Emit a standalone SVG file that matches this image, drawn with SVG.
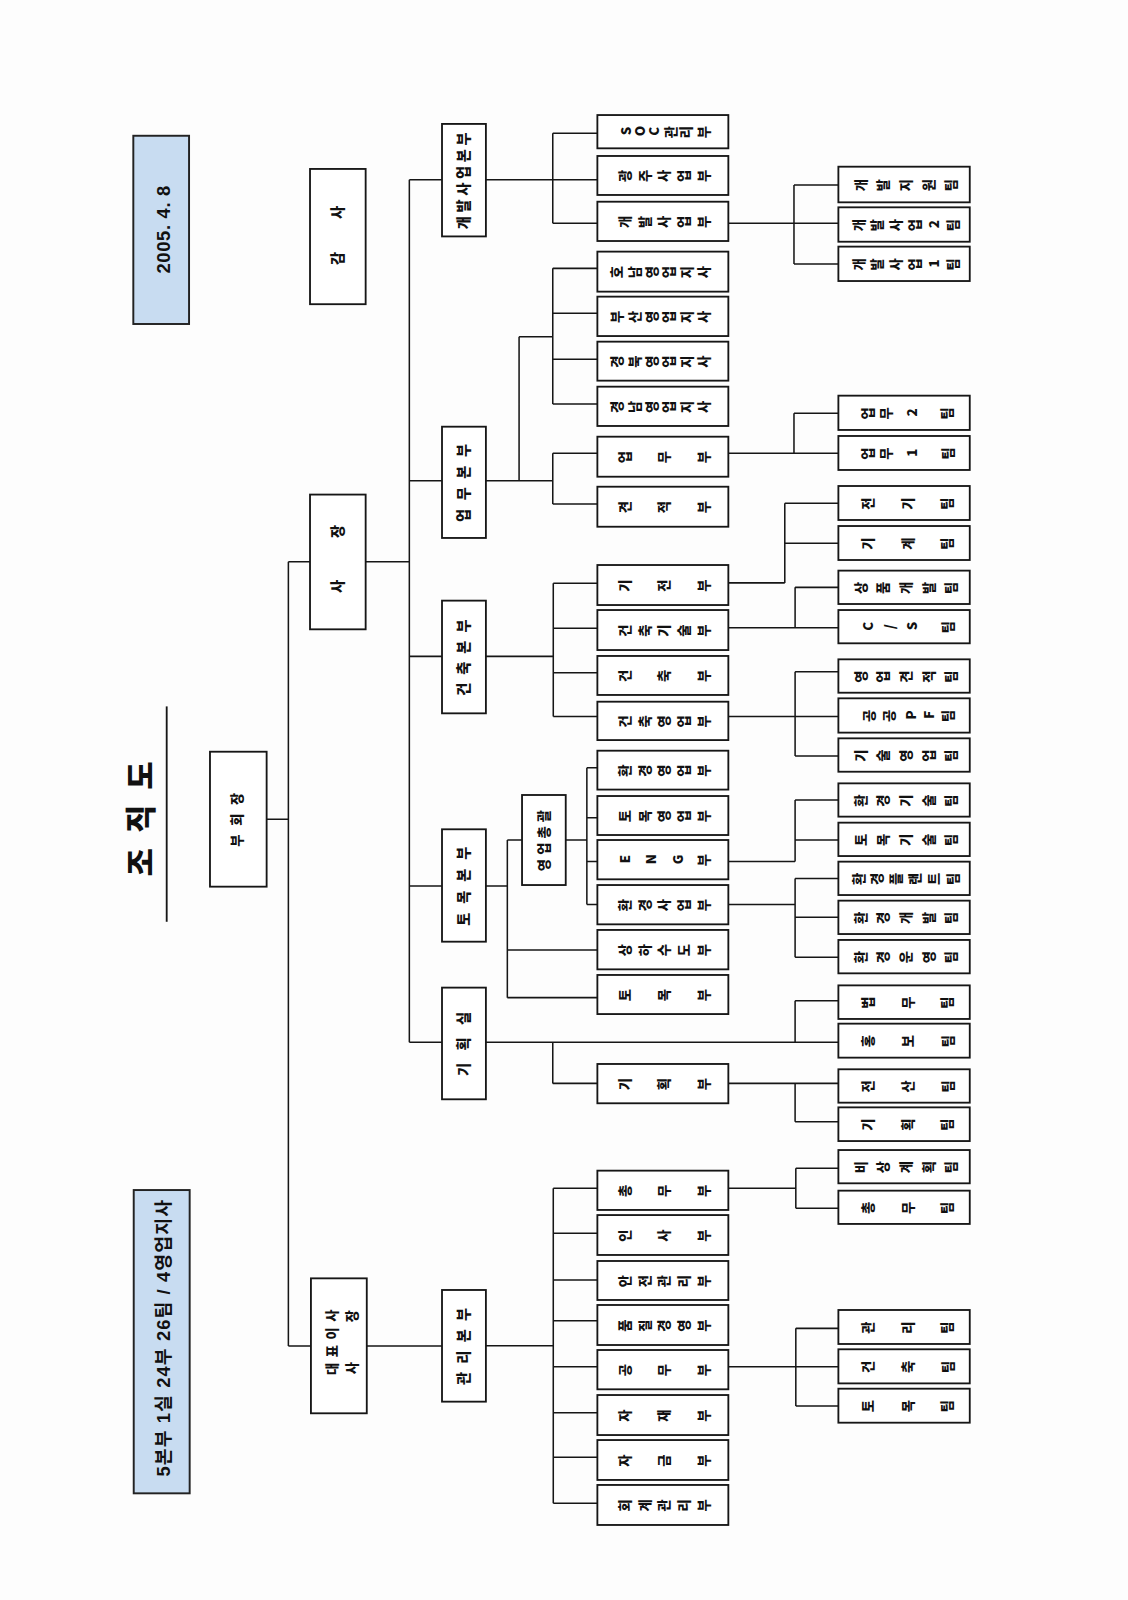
<svg xmlns="http://www.w3.org/2000/svg" width="1128" height="1600" viewBox="0 0 1128 1600">
<style>
.b{fill:#fff;stroke:#161616;stroke-width:1.8}
.bl{fill:#c8dcf1;stroke:#222;stroke-width:1.9}
.c{fill:none;stroke:#161616;stroke-width:1.5}
.t{font-family:"Noto Sans CJK KR","Noto Sans",sans-serif;font-weight:900;fill:#111;font-size:13px}
.t14{font-size:14px}
.l{font-family:"Liberation Sans","Noto Sans CJK KR",sans-serif;font-weight:700;fill:#111;font-size:18px}
</style>
<rect width="1128" height="1600" fill="#fdfdfd"/>
<g transform="scale(1.0208)">
<g id="connectors" class="c">
<path d="M261.2,802.6H282.5M282.5,550.4V1318.6M282.5,550.4H303.7M282.5,1318.6H304.6M358.2,550.4H401M401,176V1021M401,176H433M476,176H585.2M401,470.9H433M401,643H433M401,868H433M401,1021H433M359.3,1318.5H433"/>
<path d="M541.5,130.6V218.8M541.5,130.6H585.2M541.5,218.8H585.2M713.5,218.8H821.3M777.8,181.2V258.6M777.8,181.2H821.3M777.8,258.6H821.3"/>
<path d="M476,470.9H541.5M508.5,329.8V470.9M508.5,329.8H541.5M541.5,262.9V395.8M541.5,262.9H585.2M541.5,306.9H585.2M541.5,352H585.2M541.5,395.8H585.2M541.5,444V493.7M541.5,444H585.2M541.5,493.7H585.2M713.5,444H821.3M777.8,404.9V444M777.8,404.9H821.3"/>
<path d="M476,643H542M542,571.4V702M542,571.4H585.2M542,615.5H585.2M542,659H585.2M542,702H585.2M713.5,571H768.8M768.8,493V571M768.8,493H821.3M768.8,532.2H821.3M713.5,615H821.3M778.9,575.4V615M778.9,575.4H821.3M713.5,702H821.3M778.9,658V740.6M778.9,658H821.3M778.9,740.6H821.3"/>
<path d="M476,868H497M497,822.9V977.3M497,822.9H511.4M497,930.6H585.2M497,977.3H585.2M554.2,822.9H574.9M574.9,752V886M574.9,752H585.2M574.9,801H585.2M574.9,844H585.2M574.9,886H585.2M713.5,844H778.9M778.9,783.7V844M778.9,783.7H821.3M778.9,822.9H821.3M713.5,886H778.9M778.9,860.5V937.8M778.9,860.5H821.3M778.9,898.6H821.3M778.9,937.8H821.3"/>
<path d="M476,1021H821.3M778.9,980.3V1021M778.9,980.3H821.3M541.5,1021V1061.3M541.5,1061.3H585.2M713.5,1061.3H821.3M778.9,1061.3V1098.8M778.9,1098.8H821.3"/>
<path d="M476,1318.4H542M542,1164.1V1472.7M542,1164.1H585.2M542,1208.2H585.2M542,1253.9H585.2M542,1293.8H585.2M542,1338.8H585.2M542,1383.9H585.2M542,1427.6H585.2M542,1472.7H585.2M713.5,1164.1H779.6M779.6,1144.5V1183.7M779.6,1144.5H821.3M779.6,1183.7H821.3M713.5,1338.8H821.3M779.6,1301.3V1377.4M779.6,1301.3H821.3M779.6,1377.4H821.3"/>
</g>
<g id="title">
<text class="t" style="font-size:30px" transform="translate(138,800.9) rotate(-90)" x="-57.6 -36 -15 7 27.6" y="11">조 직 도</text>
<line x1="163.3" y1="692" x2="163.3" y2="903" stroke="#161616" stroke-width="1.8"/>
</g>
<g id="date"><rect class="bl" x="130.6" y="133" width="54.6" height="184.4"/>
<text class="l" transform="translate(160,225) rotate(-90)" x="-43" y="6.5" textLength="86" lengthAdjust="spacing">2005. 4. 8</text></g>
<g id="summary"><rect class="bl" x="131" y="1165.8" width="54.8" height="297.1"/>
<text class="l" transform="translate(160,1311) rotate(-90)" x="-135.5" y="6.6" textLength="271" lengthAdjust="spacing">5본부 1실 24부 26팀 / 4영업지사</text></g>
<g id="n-vicechair"><rect class="b" x="205.7" y="736.4" width="55.5" height="132.2"/>
<text class="t" transform="translate(232.5,802.5) rotate(-90)" x="-27 -6.5 14" y="4.8">부회장</text></g>
<g id="n-president"><rect class="b" x="303.7" y="484.5" width="54.5" height="132"/>
<text class="t t14" transform="translate(331,547) rotate(-90)" x="-34 20" y="5.2">사장</text></g>
<g id="n-auditor"><rect class="b" x="303.7" y="165.5" width="54.5" height="132.5"/>
<text class="t t14" transform="translate(331,230) rotate(-90)" x="-29.5 15.5" y="5.2">감사</text></g>
<g id="n-ceo"><rect class="b" x="304.6" y="1252.3" width="54.7" height="132.2"/>
<text class="t" transform="translate(332,1314.3) rotate(-90)"><tspan x="-32.6 -15.2 2.2 19.6" y="-2.3">대표이사</tspan><tspan x="-32 19" y="17.3">사장</tspan></text></g>
<g id="n-devhq"><rect class="b" x="433" y="121.4" width="43" height="110.2"/>
<text class="t t14" transform="translate(454.5,176.5) rotate(-90)" x="-48 -31.6 -15.2 1.2 17.6 34" y="5.2">개발사업본부</text></g>
<g id="n-bizhq"><rect class="b" x="433" y="418" width="43" height="109"/>
<text class="t t14" transform="translate(454.5,472.5) rotate(-90)" x="-38.85 -17.6 3.6 24.85" y="5.2">업무본부</text></g>
<g id="n-archhq"><rect class="b" x="433" y="588.4" width="43" height="110.4"/>
<text class="t t14" transform="translate(454.5,643.6) rotate(-90)" x="-38 -17.3 3.3 24" y="5.2">건축본부</text></g>
<g id="n-civilhq"><rect class="b" x="433" y="812.4" width="43" height="110.1"/>
<text class="t t14" transform="translate(454.5,867.5) rotate(-90)" x="-39.35 -17.8 3.8 25.35" y="5.2">토목본부</text></g>
<g id="n-planoffice"><rect class="b" x="433" y="967.5" width="43" height="109.4"/>
<text class="t t14" transform="translate(454.5,1022.2) rotate(-90)" x="-32 -7 18" y="5.2">기획실</text></g>
<g id="n-adminhq"><rect class="b" x="433" y="1263.7" width="43" height="109.4"/>
<text class="t t14" transform="translate(454.5,1318.4) rotate(-90)" x="-38.35 -17.45 3.45 24.35" y="5.2">관리본부</text></g>
<g id="n-salesgen"><rect class="b" x="511.4" y="778.8" width="42.8" height="88.2"/>
<text class="t" transform="translate(532.8,822.9) rotate(-90)" x="-30.5 -14.5 1.5 17.5" y="4.8">영업총괄</text></g>
<g id="level3" class="t">
<g id="d-soc"><rect class="b" x="585.2" y="112.7" width="128.3" height="32.6"/><text rotate="-90" x="617.8 631.8 645.8 661.8 676.8 694.5" y="132.6 133.4 132.9 135.5 135.5 135.5">SOC관리부</text></g>
<g id="d-gwangju"><rect class="b" x="585.2" y="152.8" width="128.3" height="38.2"/><text rotate="-90" x="617 636.4 655.7 675.1 694.5" y="178.4">광주사업부</text></g>
<g id="d-dev"><rect class="b" x="585.2" y="197.6" width="128.3" height="38.5"/><text rotate="-90" x="617 636.4 655.7 675.1 694.5" y="223.35">개발사업부</text></g>
<g id="d-honam"><rect class="b" x="585.2" y="246.5" width="128.3" height="39.2"/><text rotate="-90" x="609.5 626.5 643.5 660.5 677.5 694.5" y="272.6">호남영업지사</text></g>
<g id="d-busan"><rect class="b" x="585.2" y="290.6" width="128.3" height="38.6"/><text rotate="-90" x="609.5 626.5 643.5 660.5 677.5 694.5" y="316.4">부산영업지사</text></g>
<g id="d-gyeongbuk"><rect class="b" x="585.2" y="334.7" width="128.3" height="38.2"/><text rotate="-90" x="609.5 626.5 643.5 660.5 677.5 694.5" y="360.3">경북영업지사</text></g>
<g id="d-gyeongnam"><rect class="b" x="585.2" y="378.8" width="128.3" height="38.5"/><text rotate="-90" x="609.5 626.5 643.5 660.5 677.5 694.5" y="404.55">경남영업지사</text></g>
<g id="d-biz"><rect class="b" x="585.2" y="427.8" width="128.3" height="39.2"/><text rotate="-90" x="617 655.75 694.5" y="453.9">업무부</text></g>
<g id="d-estimate"><rect class="b" x="585.2" y="476.8" width="128.3" height="39.2"/><text rotate="-90" x="617 655.75 694.5" y="502.9">견적부</text></g>
<g id="d-mep"><rect class="b" x="585.2" y="553.5" width="128.3" height="39.2"/><text rotate="-90" x="617 655.75 694.5" y="579.6">기전부</text></g>
<g id="d-archtech"><rect class="b" x="585.2" y="597.6" width="128.3" height="39.2"/><text rotate="-90" x="617 636.4 655.7 675.1 694.5" y="623.7">건축기술부</text></g>
<g id="d-arch"><rect class="b" x="585.2" y="642.6" width="128.3" height="38.2"/><text rotate="-90" x="617 655.75 694.5" y="668.2">건축부</text></g>
<g id="d-archsales"><rect class="b" x="585.2" y="687.4" width="128.3" height="37.6"/><text rotate="-90" x="617 636.4 655.7 675.1 694.5" y="712.7">건축영업부</text></g>
<g id="d-envsales"><rect class="b" x="585.2" y="735.4" width="128.3" height="38.1"/><text rotate="-90" x="617 636.4 655.7 675.1 694.5" y="760.95">환경영업부</text></g>
<g id="d-civilsales"><rect class="b" x="585.2" y="779.8" width="128.3" height="38.2"/><text rotate="-90" x="617 636.4 655.7 675.1 694.5" y="805.4">토목영업부</text></g>
<g id="d-eng"><rect class="b" x="585.2" y="822.9" width="128.3" height="38.5"/><text rotate="-90" x="617 642.8 668.7 694.5" y="845.6 846.6 846.6 848.65">ENG부</text></g>
<g id="d-envbiz"><rect class="b" x="585.2" y="867" width="128.3" height="38.5"/><text rotate="-90" x="617 636.4 655.7 675.1 694.5" y="892.75">환경사업부</text></g>
<g id="d-water"><rect class="b" x="585.2" y="911" width="128.3" height="38.6"/><text rotate="-90" x="617 636.4 655.7 675.1 694.5" y="936.8">상하수도부</text></g>
<g id="d-civil"><rect class="b" x="585.2" y="955.1" width="128.3" height="38.3"/><text rotate="-90" x="617 655.75 694.5" y="980.75">토목부</text></g>
<g id="d-plan"><rect class="b" x="585.2" y="1042.3" width="128.3" height="38.5"/><text rotate="-90" x="617 655.75 694.5" y="1068.05">기획부</text></g>
<g id="d-general"><rect class="b" x="585.2" y="1146.8" width="128.3" height="38.5"/><text rotate="-90" x="617 655.75 694.5" y="1172.55">총무부</text></g>
<g id="d-hr"><rect class="b" x="585.2" y="1190.3" width="128.3" height="39.1"/><text rotate="-90" x="617 655.75 694.5" y="1216.35">인사부</text></g>
<g id="d-safety"><rect class="b" x="585.2" y="1235.3" width="128.3" height="38.2"/><text rotate="-90" x="617 636.4 655.7 675.1 694.5" y="1260.9">안전관리부</text></g>
<g id="d-quality"><rect class="b" x="585.2" y="1278.4" width="128.3" height="39.2"/><text rotate="-90" x="617 636.4 655.7 675.1 694.5" y="1304.5">품질경영부</text></g>
<g id="d-works"><rect class="b" x="585.2" y="1322.5" width="128.3" height="38.5"/><text rotate="-90" x="617 655.75 694.5" y="1348.25">공무부</text></g>
<g id="d-material"><rect class="b" x="585.2" y="1366.6" width="128.3" height="39.2"/><text rotate="-90" x="617 655.75 694.5" y="1392.7">자재부</text></g>
<g id="d-fund"><rect class="b" x="585.2" y="1410.7" width="128.3" height="39.1"/><text rotate="-90" x="617 655.75 694.5" y="1436.75">자금부</text></g>
<g id="d-account"><rect class="b" x="585.2" y="1454.7" width="128.3" height="39.2"/><text rotate="-90" x="617 636.4 655.7 675.1 694.5" y="1480.8">회계관리부</text></g>
</g>
<g id="level4" class="t">
<g id="tm-devsupport"><rect class="b" x="821.3" y="163.3" width="128.7" height="34.9"/><text rotate="-90" x="848.1 870.2 892.3 914.5 936.6" y="187.25">개발지원팀</text></g>
<g id="tm-dev2"><rect class="b" x="821.3" y="203.1" width="128.7" height="33.7"/><text rotate="-90" x="846.1 864.5 882.9 901.3 919.7 938.1" y="226.45 226.45 226.45 226.45 223.55 226.45">개발사업2팀</text></g>
<g id="tm-dev1"><rect class="b" x="821.3" y="241.6" width="128.7" height="33.7"/><text rotate="-90" x="846.1 864.5 882.9 901.3 919.7 938.1" y="264.95 264.95 264.95 264.95 262.05 264.95">개발사업1팀</text></g>
<g id="tm-biz2"><rect class="b" x="821.3" y="387.6" width="128.7" height="33.6"/><text rotate="-90" x="855.1 873.1 898.6 933.1" y="410.9 410.9 408 410.9">업무2팀</text></g>
<g id="tm-biz1"><rect class="b" x="821.3" y="427.1" width="128.7" height="33.3"/><text rotate="-90" x="855.1 873.1 898.6 933.1" y="450.25 450.25 447.35 450.25">업무1팀</text></g>
<g id="tm-elec"><rect class="b" x="821.3" y="476.1" width="128.7" height="33.3"/><text rotate="-90" x="855.1 894.1 933.1" y="499.25">전기팀</text></g>
<g id="tm-mech"><rect class="b" x="821.3" y="515.3" width="128.7" height="33.3"/><text rotate="-90" x="855.1 894.1 933.1" y="538.45">기계팀</text></g>
<g id="tm-product"><rect class="b" x="821.3" y="559" width="128.7" height="32.7"/><text rotate="-90" x="848.1 870.2 892.3 914.5 936.6" y="581.85">상품개발팀</text></g>
<g id="tm-cs"><rect class="b" x="821.3" y="597.6" width="128.7" height="32.6"/><text rotate="-90" x="855.1 876.8 898.6 933.1" y="617.8 616.4 617.5 620.4">C/S팀</text></g>
<g id="tm-salesest"><rect class="b" x="821.3" y="645.9" width="128.7" height="32.7"/><text rotate="-90" x="848.1 870.2 892.3 914.5 936.6" y="668.75">영업견적팀</text></g>
<g id="tm-ppf"><rect class="b" x="821.3" y="684.1" width="128.7" height="33.6"/><text rotate="-90" x="856.1 876.1 897.1 915.1 933.1" y="707.4 707.4 704.8 704.2 707.4">공공PF팀</text></g>
<g id="tm-techsales"><rect class="b" x="821.3" y="723.3" width="128.7" height="32.7"/><text rotate="-90" x="848.1 870.2 892.3 914.5 936.6" y="746.15">기술영업팀</text></g>
<g id="tm-envtech"><rect class="b" x="821.3" y="767.4" width="128.7" height="32.6"/><text rotate="-90" x="848.1 870.2 892.3 914.5 936.6" y="790.2">환경기술팀</text></g>
<g id="tm-civiltech"><rect class="b" x="821.3" y="805.9" width="128.7" height="32.7"/><text rotate="-90" x="848.1 870.2 892.3 914.5 936.6" y="828.75">토목기술팀</text></g>
<g id="tm-envplant"><rect class="b" x="821.3" y="844.1" width="128.7" height="32.7"/><text rotate="-90" x="846.1 864.5 882.9 901.3 919.7 938.1" y="866.95">환경플랜트팀</text></g>
<g id="tm-envdev"><rect class="b" x="821.3" y="882.3" width="128.7" height="32.7"/><text rotate="-90" x="848.1 870.2 892.3 914.5 936.6" y="905.15">환경개발팀</text></g>
<g id="tm-envop"><rect class="b" x="821.3" y="920.8" width="128.7" height="32.7"/><text rotate="-90" x="848.1 870.2 892.3 914.5 936.6" y="943.65">환경운영팀</text></g>
<g id="tm-legal"><rect class="b" x="821.3" y="965.3" width="128.7" height="32.9"/><text rotate="-90" x="855.1 894.1 933.1" y="988.25">법무팀</text></g>
<g id="tm-pr"><rect class="b" x="821.3" y="1002.8" width="128.7" height="33.3"/><text rotate="-90" x="855.1 894.1 933.1" y="1025.95">홍보팀</text></g>
<g id="tm-it"><rect class="b" x="821.3" y="1047.5" width="128.7" height="32.7"/><text rotate="-90" x="855.1 894.1 933.1" y="1070.35">전산팀</text></g>
<g id="tm-plan"><rect class="b" x="821.3" y="1084.8" width="128.7" height="33"/><text rotate="-90" x="855.1 894.1 933.1" y="1107.8">기획팀</text></g>
<g id="tm-emergency"><rect class="b" x="821.3" y="1126.6" width="128.7" height="32.6"/><text rotate="-90" x="848.1 870.2 892.3 914.5 936.6" y="1149.4">비상계획팀</text></g>
<g id="tm-general"><rect class="b" x="821.3" y="1166.4" width="128.7" height="32.6"/><text rotate="-90" x="855.1 894.1 933.1" y="1189.2">총무팀</text></g>
<g id="tm-admin"><rect class="b" x="821.3" y="1283.3" width="128.7" height="33.3"/><text rotate="-90" x="855.1 894.1 933.1" y="1306.45">관리팀</text></g>
<g id="tm-arch"><rect class="b" x="821.3" y="1321.8" width="128.7" height="33.4"/><text rotate="-90" x="855.1 894.1 933.1" y="1345">건축팀</text></g>
<g id="tm-civil"><rect class="b" x="821.3" y="1360.4" width="128.7" height="33.3"/><text rotate="-90" x="855.1 894.1 933.1" y="1383.55">토목팀</text></g>
</g>
</g>
</svg>
